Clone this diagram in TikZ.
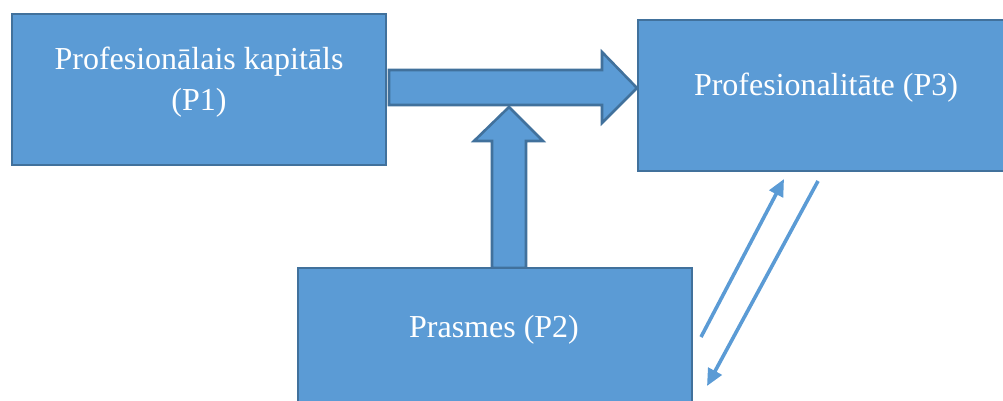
\documentclass[tikz,border=0pt]{standalone}
\usepackage{fontspec}
\setmainfont{Liberation Serif}
\usetikzlibrary{arrows.meta,calc}
\definecolor{boxfill}{HTML}{5B9BD5}
\definecolor{boxline}{HTML}{41719C}
\tikzset{
  box/.style={draw=boxline, fill=boxfill, line width=2.6pt, inner sep=0pt},
  blockarrow/.style={draw=boxline, fill=boxfill, line width=2.6pt, line join=miter},
  lbl/.style={text=white, font=\fontsize{32}{41}\selectfont, anchor=base, inner sep=0pt, align=center},
  link/.style={draw=boxfill, line width=3.6pt, -{Triangle[length=17pt,width=15pt]}},
}
\begin{document}
\begin{tikzpicture}[x=1pt, y=-1pt]
  \useasboundingbox (0,0) rectangle (1003,400);
  \clip (0,0) rectangle (1003,400);

  % block arrows: P1 -> P3, and P2 pushing up into the main arrow
  \filldraw[blockarrow] (389,70) -- (602,70) -- (602,52) -- (637,88)
    -- (602,123) -- (602,105) -- (389,105) -- cycle;
  \filldraw[blockarrow] (492,268) -- (492,141) -- (474,141) -- (509,107)
    -- (543,141) -- (526,141) -- (526,268) -- cycle;

  % boxes
  \node[box, minimum width=374pt, minimum height=151pt] (P1) at (199,89.5) {};
  \node[box, minimum width=376pt, minimum height=151pt] (P3) at (826,95.5) {};
  \node[box, minimum width=394pt, minimum height=151pt] (P2) at (495,343.5) {};

  % labels
  \node[lbl] (t1) at (199,69) {Profesionālais kapitāls};
  \node[lbl] (t1b) at (199,110) {(P1)};
  \node[lbl] (t3) at (826,95) {Profesionalitāte (P3)};
  \node[lbl] (t2) at (494,337) {Prasmes (P2)};

  % two-way link between P2 and P3
  \coordinate (a1s) at (701,337);
  \coordinate (a1e) at (784,179);
  \coordinate (a2s) at (818,181);
  \coordinate (a2e) at (707,386);
  \draw[link] (a1s) -- (a1e);
  \draw[link] (a2s) -- (a2e);
\end{tikzpicture}
\end{document}
